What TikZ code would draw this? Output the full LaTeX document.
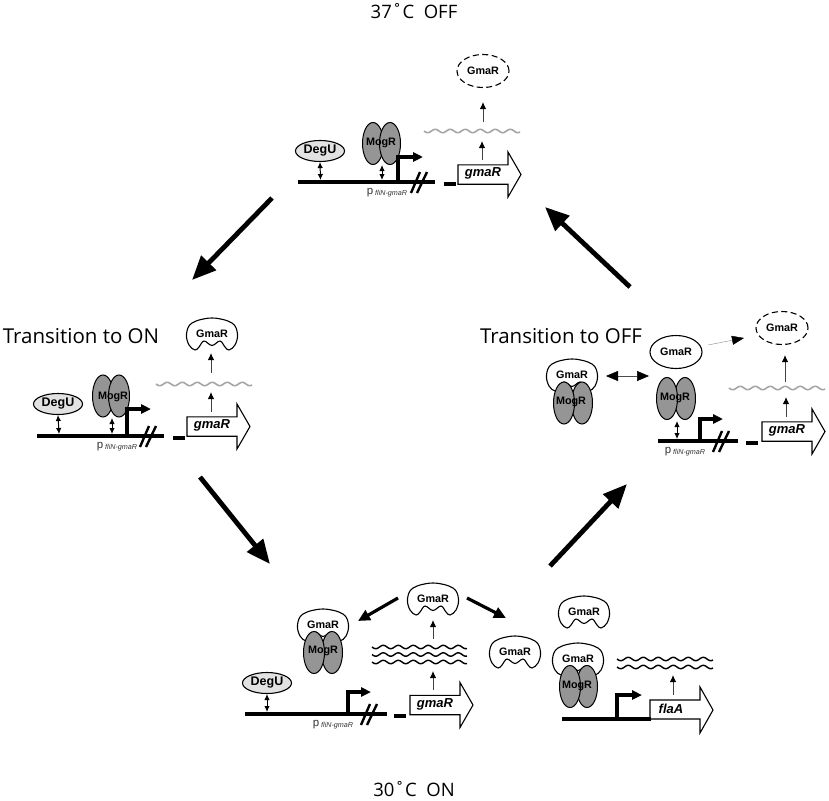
\documentclass[tikz,border=0pt]{standalone}
\usepackage{fontspec}
\setmainfont{Liberation Sans}
\newfontfamily\capfont{Open Sans}
\usetikzlibrary{arrows.meta,shapes.geometric}
\definecolor{mogfill}{HTML}{959595}
\definecolor{degfill}{HTML}{E2E2E2}
\definecolor{wavegray}{HTML}{A6A6A6}
\definecolor{lblgray}{HTML}{333333}
\tikzset{
  dna/.style={line width=3.2pt,black},
  promoter/.style={line width=3.2pt,black,-{Triangle[length=10pt,width=9pt]}},
  slash/.style={line width=2.4pt,black},
  outline/.style={draw=black,line width=1.1pt,fill=white},
  genebox/.style={draw=black,line width=1.1pt,fill=white,line join=miter},
  genelabel/.style={font=\fontsize{13}{13}\selectfont\bfseries\itshape,inner sep=0pt},
  protlabel/.style={font=\fontsize{10.8}{11}\selectfont\bfseries,inner sep=0pt,text=black},
  degu/.style={ellipse,draw=black,line width=1.1pt,fill=degfill,minimum width=49pt,minimum height=21pt,inner sep=0pt,font=\fontsize{12.5}{12}\selectfont\bfseries},
  mog/.style={ellipse,draw=black,line width=1pt,fill=mogfill,minimum width=21pt,minimum height=42pt,inner sep=0pt},
  freegmar/.style={ellipse,draw=black,line width=1.1pt,fill=white,minimum width=52pt,minimum height=33pt,inner sep=0pt,font=\fontsize{10.8}{11}\selectfont\bfseries},
  deadgmar/.style={freegmar,dash pattern=on 6pt off 3.5pt},
  dbl/.style={line width=1pt,black,{Latex[length=6pt,width=5.5pt]}-{Latex[length=6pt,width=5.5pt]}},
  small/.style={line width=1pt,black!75,-{Latex[length=7pt,width=6.5pt,black]}},
  cycle/.style={line width=4.8pt,black,-{Triangle[length=24pt,width=20pt]}},
  branch/.style={line width=3.2pt,black,-{Triangle[length=12pt,width=11pt]}},
  graywave/.style={line width=1.6pt,wavegray},
  blackwave/.style={line width=1.4pt,black},
  caption/.style={font=\capfont\fontsize{20.5}{21}\selectfont,inner sep=0pt},
  temp/.style={font=\capfont\fontsize{18.5}{19}\selectfont,inner sep=0pt}
}
\newcommand\rnawave[4]{\draw[#4] plot[domain=#1:#2,samples=90,smooth] (\x,{#3+1.7*sin((\x-#1)*24)});}
\newcommand\gmacap[3]{%
  \draw[outline,shift={(#2,#3)}] plot[smooth cycle,tension=.62] coordinates {(-25.5,0) (-20,-11) (0,-16) (20,-11) (25.5,0) (23,11) (17,16) (13,13) (8,7) (0,11.5) (-8,7) (-13,13) (-17,16) (-23,11)};
  \node[protlabel] (#1) at (#2,#3) {GmaR};}
\newcommand\mogdimer[6]{%
  \node[mog] (#1a) at (#2,#4) {};
  \node[mog] (#1b) at (#3,#4) {};
  \node[protlabel] (#1) at (#5,#6) {MogR};}
\newcommand\genearrow[4]{%
  \draw[genebox] (#2,#3-9.7) -- (#2+50,#3-9.7) -- (#2+50,#3-22.5) -- (#2+63,#3) -- (#2+50,#3+22.5) -- (#2+50,#3+9.7) -- (#2,#3+9.7) -- cycle;
  \node[genelabel] (#1) at (#2+25,#3-1) {#4};}
\newcommand\dnabreak[4]{%
  \draw[slash] (#2+13,#3+11) -- (#2+22,#3-10);
  \draw[slash] (#2+19,#3+11) -- (#2+29,#3-10);
  \draw[dna] (#2+46,#3+2) -- (#2+58,#3+2);
  \node[inner sep=0pt,text=lblgray] (#1) at (#4,#3+11) {\fontsize{11.5}{11}\selectfont p\,\raisebox{-1pt}{\fontsize{7.2}{7}\selectfont\itshape fliN-gmaR}};}
\begin{document}
\begin{tikzpicture}[x=1pt,y=-1pt]
\useasboundingbox (0,0) rectangle (829,800);

\node[temp] (t37) at (414,11) {37˚C\ \ OFF};
\node[temp] (t30) at (414,789) {30˚C\ \ ON};
\node[caption] (ton) at (81,336) {Transition to ON};
\node[caption] (toff) at (561,336) {Transition to OFF};

% top
\coordinate (Ta) at (298,182); \coordinate (Tb) at (435,182);
\draw[dna] (Ta) -- (Tb);
\node[degu] (Tdegu) at (320,151) {DegU};
\coordinate (TdeguL) at (320.5,180); \draw[dbl] (Tdegu.south) -- (TdeguL);
\mogdimer{Tmog}{373}{390}{143.5}{381}{143}
\coordinate (TmogL) at (382,180); \draw[dbl] (382,165) -- (TmogL);
\coordinate (Tp) at (398,183.5); \coordinate (Tpt) at (398,157);
\draw[promoter] (Tp) -- (Tpt) -- (423,157);
\dnabreak{Tlab}{398}{182}{387}
\genearrow{Tgene}{458}{174.5}{gmaR}
\rnawave{424}{520}{131}{graywave}
\coordinate (Twu) at (482,160); \coordinate (Twv) at (482,141); \draw[small] (Twu) -- (Twv);
\node[deadgmar] (Tdead) at (483,71) {GmaR};
\coordinate (Tx) at (483,122); \coordinate (Ty) at (483,102); \draw[small] (Tx) -- (Ty);

% left
\coordinate (La) at (37,436); \coordinate (Lb) at (164,436);
\draw[dna] (La) -- (Lb);
\node[degu] (Ldegu) at (58,404) {DegU};
\coordinate (LdeguL) at (59,434); \draw[dbl] (Ldegu.south) -- (LdeguL);
\mogdimer{Lmog}{103}{119}{396}{113}{397}
\coordinate (LmogL) at (112,434); \draw[dbl] (112,418) -- (LmogL);
\coordinate (Lp) at (127,437.5); \coordinate (Lpt) at (127,409);
\draw[promoter] (Lp) -- (Lpt) -- (151,409);
\dnabreak{Llab}{127}{436}{117}
\genearrow{Lgene}{187}{426.5}{gmaR}
\rnawave{156}{252}{384}{graywave}
\coordinate (Lwu) at (211,412); \coordinate (Lwv) at (211,392); \draw[small] (Lwu) -- (Lwv);
\gmacap{Lcap}{212}{334}
\coordinate (Lx) at (211,373); \coordinate (Ly) at (211,353); \draw[small] (Lx) -- (Ly);

% right
\coordinate (Ra) at (658,441); \coordinate (Rb) at (738,441);
\draw[dna] (Ra) -- (Rb);
\gmacap{Rcap}{572}{375}
\mogdimer{Rmog}{582}{564}{403}{571}{402}
\mogdimer{Rmid}{685}{667}{398.5}{675}{398}
\node[freegmar] (Rfree) at (676,352) {GmaR};
\node[deadgmar] (Rdead) at (782,328) {GmaR};
\coordinate (Rda) at (606,376); \coordinate (Rdb) at (649,376);
\draw[line width=.5pt,black!70,{Triangle[length=12pt,width=10pt,black]}-{Triangle[length=12pt,width=10pt,black]}] (Rda) -- (Rdb);
\coordinate (Rga) at (708,345); \coordinate (Rgb) at (744,338);
\draw[line width=.4pt,black!45,-{Triangle[length=12pt,width=9pt,black]}] (Rga) -- (Rgb);
\coordinate (RmogL) at (677,439); \draw[dbl] (677,421) -- (RmogL);
\coordinate (Rp) at (700,442.5); \coordinate (Rpt) at (700,419);
\draw[promoter] (Rp) -- (Rpt) -- (723,419);
\dnabreak{Rlab}{700}{441}{685}
\genearrow{Rgene}{762}{431.5}{gmaR}
\rnawave{729}{825}{388}{graywave}
\coordinate (Rwu) at (786,417); \coordinate (Rwv) at (786,397); \draw[small] (Rwu) -- (Rwv);
\coordinate (Rx) at (785,382); \coordinate (Ry) at (785,355); \draw[small] (Rx) -- (Ry);

% bottom
\coordinate (Ba) at (245,714); \coordinate (Bb) at (387,714);
\draw[dna] (Ba) -- (Bb);
\node[degu] (Bdegu) at (267,683) {DegU};
\coordinate (BdeguL) at (267,712); \draw[dbl] (Bdegu.south) -- (BdeguL);
\gmacap{Bcap}{323}{625}
\mogdimer{Bmog}{332}{314}{652.5}{323}{651}
\coordinate (Bp) at (348,715.5); \coordinate (Bpt) at (348,692);
\draw[promoter] (Bp) -- (Bpt) -- (371,692);
\dnabreak{Blab}{348}{714}{333}
\genearrow{Bgene}{410}{705}{gmaR}
\rnawave{372}{467}{647}{blackwave}
\rnawave{372}{467}{654.5}{blackwave}
\rnawave{372}{467}{662}{blackwave}
\coordinate (Bwu) at (433,690); \coordinate (Bwv) at (433,671); \draw[small] (Bwu) -- (Bwv);
\coordinate (Bx) at (433,639); \coordinate (By) at (433,620); \draw[small] (Bx) -- (By);
\gmacap{Bfree}{433}{599}
\coordinate (Bl1) at (398,598); \coordinate (Bl2) at (358,621); \draw[branch] (Bl1) -- (Bl2);
\coordinate (Br1) at (467,598); \coordinate (Br2) at (506,618); \draw[branch] (Br1) -- (Br2);
\gmacap{Bfree2}{515}{652}
\gmacap{Bfree3}{584}{612}
\gmacap{Bcap2}{578}{659}
\mogdimer{Bmog2}{587}{570}{686.5}{577}{686}
% flaA
\coordinate (Fa) at (562,719); \coordinate (Fb) at (651,719);
\draw[genebox] (650,700) -- (700,700) -- (700,687) -- (713,710) -- (700,733) -- (700,719) -- (650,719) -- cycle;
\node[genelabel] (Fgene) at (671,709) {flaA};
\draw[dna] (Fa) -- (Fb);
\coordinate (Fp) at (617,720.5); \coordinate (Fpt) at (617,695);
\draw[promoter] (Fp) -- (Fpt) -- (642,695);
\rnawave{617}{713}{659}{blackwave}
\rnawave{617}{713}{667}{blackwave}
\coordinate (Fwu) at (673,695); \coordinate (Fwv) at (673,675); \draw[small] (Fwu) -- (Fwv);

% cycle arrows
\coordinate (C1a) at (272,198); \coordinate (C1b) at (192,280); \draw[cycle] (C1a) -- (C1b);
\coordinate (C2a) at (200,477); \coordinate (C2b) at (270,564); \draw[cycle] (C2a) -- (C2b);
\coordinate (C3a) at (550,566); \coordinate (C3b) at (627,484); \draw[cycle] (C3a) -- (C3b);
\coordinate (C4a) at (630,287); \coordinate (C4b) at (545,207); \draw[cycle] (C4a) -- (C4b);
\end{tikzpicture}
\end{document}
